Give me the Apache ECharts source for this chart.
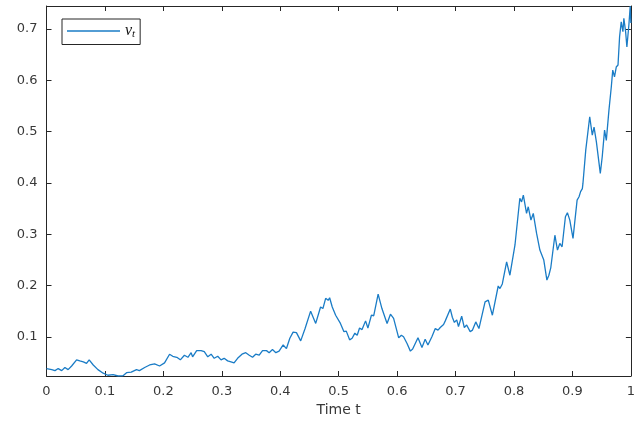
<!DOCTYPE html>
<html>
<head>
<meta charset="utf-8">
<script src="https://cdn.jsdelivr.net/npm/echarts@6/dist/echarts.min.js"></script>
<style>
html,body{margin:0;padding:0;background:#fff;}
#chart{width:638px;height:428px;}
</style>
</head>
<body>
<div id="chart"></div>
<script>
// Time values (x) and process values v_t (y)
const timeValues = [
0.000,0.009,0.0145,0.020,0.026,0.0315,0.037,0.043,0.0515,0.057,0.063,0.0685,0.073,0.080,0.088,0.097,
0.105,0.114,0.1225,0.131,0.137,0.145,0.154,0.159,0.168,0.1765,0.185,0.1935,0.202,0.2106,0.216,0.223,
0.229,0.236,0.242,0.2475,0.250,0.257,0.2646,0.270,0.276,0.2817,0.287,0.293,0.2987,0.304,0.310,0.3157,
0.321,0.327,0.3345,0.341,0.347,0.3526,0.358,0.364,0.3697,0.3765,0.381,0.3867,0.3925,0.398,0.405,0.4106,
0.4164,0.422,0.4277,0.435,0.4425,0.452,0.4607,0.469,0.473,0.4777,0.482,0.4845,0.489,0.4948,0.4976,0.503,
0.509,0.513,0.5187,0.523,0.5277,0.5317,0.5357,0.540,0.546,0.550,0.556,0.560,0.5675,0.574,0.5828,0.5886,
0.594,0.6027,0.6073,0.611,0.617,0.6227,0.6266,0.630,0.6357,0.6425,0.648,0.6527,0.6595,0.6653,0.670,0.6738,
0.6795,0.6824,0.691,0.6945,0.698,0.702,0.705,0.7105,0.715,0.719,0.725,0.729,0.7346,0.740,0.7505,0.756,
0.763,0.773,0.776,0.780,0.7874,0.793,0.8017,0.810,0.813,0.816,0.8215,0.8244,0.829,0.833,0.8386,0.8443,
0.847,0.851,0.8563,0.8597,0.863,0.870,0.8744,0.8784,0.8823,0.888,0.8914,0.8955,0.901,0.908,0.9113,0.914,
0.917,0.918,0.9228,0.9296,0.934,0.937,0.941,0.9477,0.951,0.955,0.958,0.9625,0.9665,0.969,0.972,0.975,
0.978,0.9807,0.9835,0.9864,0.988,0.991,0.9932,0.9966,0.9989,1.000
];
const vValues = [
0.038,0.036,0.034,0.038,0.034,0.040,0.036,0.043,0.055,0.053,0.051,0.048,0.055,0.045,0.036,0.029,
0.025,0.026,0.0235,0.024,0.030,0.031,0.036,0.034,0.040,0.045,0.047,0.043,0.049,0.066,0.062,0.060,
0.055,0.064,0.060,0.069,0.061,0.073,0.073,0.071,0.061,0.066,0.058,0.062,0.055,0.058,0.053,0.051,
0.049,0.058,0.066,0.069,0.064,0.060,0.066,0.064,0.073,0.073,0.069,0.075,0.069,0.072,0.084,0.077,
0.097,0.109,0.108,0.092,0.116,0.150,0.126,0.158,0.155,0.175,0.171,0.176,0.158,0.142,0.145,0.126,
0.110,0.111,0.094,0.097,0.107,0.103,0.117,0.114,0.131,0.117,0.142,0.141,0.183,0.155,0.126,0.144,
0.136,0.098,0.103,0.100,0.087,0.072,0.076,0.0735,0.098,0.079,0.095,0.084,0.100,0.116,0.113,0.118,
0.124,0.131,0.154,0.138,0.128,0.133,0.120,0.140,0.118,0.123,0.110,0.113,0.129,0.116,0.168,0.1715,
0.142,0.199,0.194,0.203,0.246,0.220,0.279,0.370,0.363,0.376,0.3405,0.3535,0.3275,0.3405,0.302,0.269,
0.272,0.2495,0.2105,0.220,0.235,0.298,0.269,0.282,0.2755,0.334,0.342,0.3275,0.292,0.3665,0.373,0.383,
0.389,0.399,0.464,0.529,0.493,0.509,0.480,0.4185,0.451,0.503,0.483,0.542,0.587,0.620,0.607,0.626,
0.630,0.685,0.714,0.695,0.721,0.695,0.665,0.708,0.745,0.712
];
const yTickValues = [0.1,0.2,0.3,0.4,0.5,0.6,0.7];
const xLabel = 'Time t';
const seriesName = 'v_t';

const axisColor = '#262626';
const textColor = '#383838';
const lineColor = '#1a7cc6';
const fontFam = 'DejaVu Sans';

const chart = echarts.init(document.getElementById('chart'), null, {renderer:'canvas'});
const fmt = v => String(+(+v).toFixed(2));

chart.setOption({
  animation:false,
  backgroundColor:'#ffffff',
  grid:{left:46.5,right:5.5,top:6,bottom:52,containLabel:false},
  legend:{
    show:true,
    data:[seriesName],
    left:62, top:19,
    orient:'horizontal',
    backgroundColor:'#ffffff',
    borderColor:axisColor, borderWidth:1, borderRadius:0,
    padding:[4,5,5,5],
    icon:'rect', itemWidth:53, itemHeight:1.3, itemGap:4,
    formatter:()=> '{v|v}{s|t}',
    textStyle:{
      color:'#111',
      rich:{
        v:{fontFamily:'Liberation Serif',fontStyle:'italic',fontSize:16,color:'#111'},
        s:{fontFamily:'Liberation Serif',fontStyle:'italic',fontSize:11,color:'#111',padding:[6,0,0,0]}
      }
    }
  },
  xAxis:[{
    type:'value', min:0, max:1, interval:0.1, position:'bottom',
    name:xLabel, nameLocation:'middle', nameGap:25,
    nameTextStyle:{fontFamily:fontFam,fontSize:14,color:textColor},
    axisLine:{show:true,onZero:false,lineStyle:{color:axisColor,width:1}},
    axisTick:{show:true,inside:true,length:5,lineStyle:{color:axisColor}},
    axisLabel:{show:true,margin:9,fontFamily:fontFam,fontSize:13,color:textColor,formatter:fmt,
      showMinLabel:true,showMaxLabel:true},
    splitLine:{show:false}
  },{
    type:'value', min:0, max:1, interval:0.1, position:'top',
    axisLine:{show:true,onZero:false,lineStyle:{color:axisColor,width:1}},
    axisTick:{show:true,inside:true,length:5,lineStyle:{color:axisColor}},
    axisLabel:{show:false}, splitLine:{show:false}
  }],
  yAxis:[{
    type:'value', min:0.0235, max:0.745, position:'left',
    axisLine:{show:true,onZero:false,lineStyle:{color:axisColor,width:1}},
    axisTick:{show:true,inside:true,length:5,customValues:yTickValues,lineStyle:{color:axisColor}},
    axisLabel:{show:true,margin:9,fontFamily:fontFam,fontSize:13,color:textColor,
      customValues:yTickValues,formatter:fmt},
    splitLine:{show:false}
  },{
    type:'value', min:0.0235, max:0.745, position:'right',
    axisLine:{show:true,onZero:false,lineStyle:{color:axisColor,width:1}},
    axisTick:{show:true,inside:true,length:5,customValues:yTickValues,lineStyle:{color:axisColor}},
    axisLabel:{show:false,customValues:yTickValues}, splitLine:{show:false}
  }],
  series:[{
    name:seriesName,
    type:'line',
    xAxisIndex:0, yAxisIndex:0,
    data:timeValues.map((t,i)=>[t,vValues[i]]),
    symbol:'none', showSymbol:false,
    lineStyle:{color:lineColor,width:1.3},
    itemStyle:{color:lineColor},
    clip:true
  }]
});
</script>
</body>
</html>
